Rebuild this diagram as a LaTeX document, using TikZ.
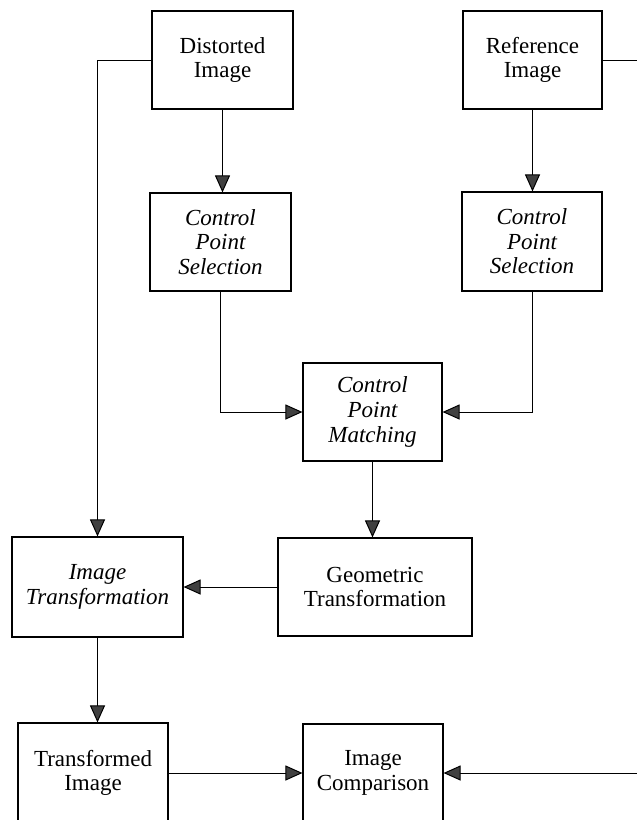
\documentclass[tikz,border=0pt]{standalone}
\usepackage{fontspec}
\setmainfont{Liberation Serif}
\usetikzlibrary{arrows.meta}

\begin{document}
\begin{tikzpicture}[x=0.5pt,y=-0.5pt,
                    box/.style={draw, line width=0.55pt, inner sep=0pt,
                                align=center,
                                font=\fontsize{11.5}{12.3}\selectfont},
                    ibox/.style={box,
                                 font=\fontsize{11.5}{12.3}\selectfont\itshape},
                    arr/.style={line width=0.5pt,
                                -{Triangle[length=8.5pt,width=7.5pt,fill=black!75]}}]

\useasboundingbox (0,0) rectangle (637,820);

\node[box, minimum width=70.5pt, minimum height=49pt] (dist) at (222.5,60) {Distorted\\Image};
\node[box, minimum width=69.5pt, minimum height=49pt] (ref) at (532.5,60) {Reference\\Image};

\node[ibox, minimum width=70.5pt, minimum height=49pt] (cpsL) at (220.5,242) {Control\\Point\\Selection};
\node[ibox, minimum width=70pt, minimum height=49.5pt] (cpsR) at (532,241.5) {Control\\Point\\Selection};

\node[ibox, minimum width=69.5pt, minimum height=49pt] (cpm) at (372.5,412) {Control\\Point\\Matching};

\node[box, minimum width=97pt, minimum height=49pt] (geo) at (375,587) {Geometric\\Transformation};
\node[ibox, minimum width=85.5pt, minimum height=50pt] (imgtr) at (97.5,587) {Image\\Transformation};

\node[box, minimum width=75pt, minimum height=50pt] (trimg) at (93,773) {Transformed\\Image};
\node[box, minimum width=70pt, minimum height=49pt] (cmp) at (373,773) {Image\\Comparison};

\coordinate (rt) at (640,60);

\draw[arr] (dist.south) -- (dist.south |- cpsL.north);
\draw[arr] (ref.south) -- (ref.south |- cpsR.north);

\draw[arr] (cpsL.south) |- (cpm.west);
\draw[arr] (cpsR.south) |- (cpm.east);

\draw[arr] (cpm.south) -- (cpm.south |- geo.north);
\draw[arr] (geo.west) -- (imgtr.east);

\draw[arr] (dist.west) -| (imgtr.north);
\draw[arr] (imgtr.south) -- (imgtr.south |- trimg.north);

\draw[arr] (trimg.east) -- (cmp.west);
\draw[arr] (ref.east) -- (rt) |- (cmp.east);

\end{tikzpicture}
\end{document}
